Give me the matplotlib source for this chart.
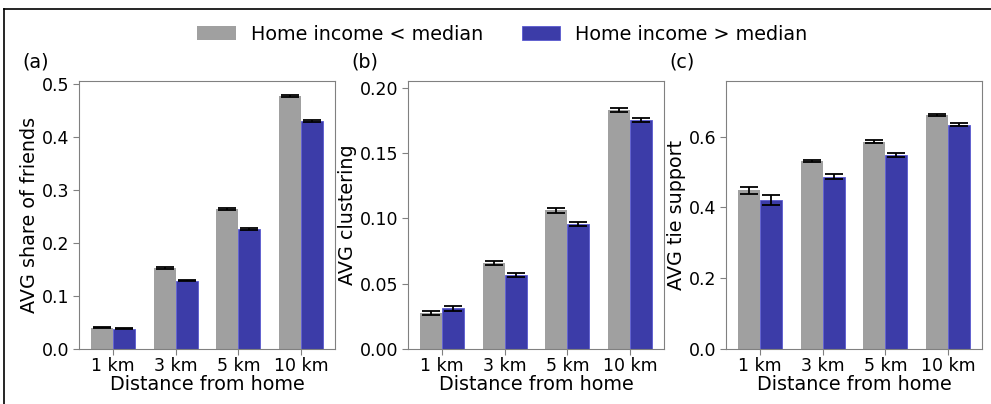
import numpy as np
import matplotlib.pyplot as plt
from matplotlib.lines import Line2D

# Categories and group labels
distances = ['1 km', '3 km', '5 km', '10 km']
group_low = 'Home income < median'
group_high = 'Home income > median'

# (a) average share of friends
share_low = [0.040, 0.153, 0.264, 0.478]
share_high = [0.038, 0.129, 0.226, 0.431]
share_low_err = [0.0012, 0.0015, 0.0015, 0.0015]
share_high_err = [0.0010, 0.0010, 0.0018, 0.0020]

# (b) average clustering
clust_low = [0.0275, 0.0656, 0.106, 0.183]
clust_high = [0.031, 0.0567, 0.0957, 0.175]
clust_low_err = [0.0018, 0.0015, 0.0016, 0.0017]
clust_high_err = [0.0020, 0.0014, 0.0016, 0.0017]

# (c) average tie support
tie_low = [0.449, 0.531, 0.585, 0.661]
tie_high = [0.422, 0.487, 0.548, 0.634]
tie_low_err = [0.010, 0.004, 0.004, 0.002]
tie_high_err = [0.014, 0.007, 0.005, 0.004]

c_low = '#a0a0a0'
c_high = '#3c3ca8'
width = 0.35

fig = plt.figure(figsize=(9.91, 4.04), dpi=100)
plt.rcParams['font.family'] = 'DejaVu Sans'

panels = [
    ('(a)', 'AVG share of friends', share_low, share_high, share_low_err, share_high_err,
     (0, 0.506), [0.0, 0.1, 0.2, 0.3, 0.4, 0.5], '{:.1f}'),
    ('(b)', 'AVG clustering', clust_low, clust_high, clust_low_err, clust_high_err,
     (0, 0.205), [0.0, 0.05, 0.10, 0.15, 0.20], '{:.2f}'),
    ('(c)', 'AVG tie support', tie_low, tie_high, tie_low_err, tie_high_err,
     (0, 0.757), [0.0, 0.2, 0.4, 0.6], '{:.1f}'),
]
lefts = [79, 408, 726]
W, H = 991, 404

x = np.arange(len(distances))
handles = None
ekw = dict(ecolor='black', elinewidth=1.3, capthick=1.3)
for (tag, ylab, lo, hi, lo_e, hi_e, ylim, yt, fmt), l in zip(panels, lefts):
    ax = fig.add_axes([l / W, (H - 349) / H, 256 / W, 268 / H])
    b1 = ax.bar(x - width / 2, lo, width, color=c_low, yerr=lo_e, capsize=6.8,
                error_kw=ekw)
    b2 = ax.bar(x + width / 2, hi, width, color=c_high, edgecolor='#5a5ad0', linewidth=0.6,
                yerr=hi_e, capsize=6.8, error_kw=ekw)
    handles = (b1, b2)
    ax.set_ylim(*ylim)
    ax.set_yticks(yt)
    ax.set_yticklabels([fmt.format(v) for v in yt])
    ax.set_xticks(x)
    ax.set_xticklabels(distances)
    ax.tick_params(labelsize=12.5, color='#808080', length=4, pad=3)
    ax.tick_params(axis='x', pad=1.5)
    for s in ax.spines.values():
        s.set_color('#808080')
    ax.set_xlabel('Distance from home', fontsize=13.8, labelpad=0)
    ax.set_ylabel(ylab, fontsize=13.8, labelpad=2)
    fig.text((l - 57) / W, (H - 62) / H, tag, fontsize=13.8, va='center')

fig.legend(handles, [group_low, group_high], loc='center', ncol=2, frameon=False,
           bbox_to_anchor=(0.507, (H - 34) / H), fontsize=13.8)

# Frame lines along the top and left edges
fig.add_artist(Line2D([4 / W, 4 / W], [0, (H - 9) / H], color='black', lw=1.2,
                      transform=fig.transFigure))
fig.add_artist(Line2D([4 / W, 1], [(H - 9) / H, (H - 9) / H], color='black', lw=1.2,
                      transform=fig.transFigure))

fig.savefig('out.png', dpi=100)
